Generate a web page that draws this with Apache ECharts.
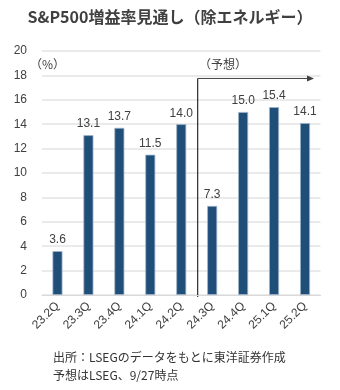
<!DOCTYPE html>
<html>
<head>
<meta charset="utf-8">
<script src="https://cdn.jsdelivr.net/npm/echarts@6/dist/echarts.min.js"></script>
<style>html,body{margin:0;padding:0;background:#fff}#c{width:340px;height:390px}</style>
</head>
<body>
<div id="c"></div>
<script>
var categories = ['23.2Q','23.3Q','23.4Q','24.1Q','24.2Q','24.3Q','24.4Q','25.1Q','25.2Q'];
var growth = [3.6, 13.1, 13.7, 11.5, 14.0, 7.3, 15.0, 15.4, 14.1];
var yTicks = [0, 2, 4, 6, 8, 10, 12, 14, 16, 18, 20];
var forecastStartIndex = 5;
var arrowLevel = 17.75;

var FONT = '"Liberation Sans", "Noto Sans CJK JP", sans-serif';
var JFONT = '"Noto Sans CJK JP", sans-serif';

var chart = echarts.init(document.getElementById('c'), null, {renderer: 'canvas'});
chart.setOption({
  animation: false,
  backgroundColor: '#fff',
  title: {
    text: 'S&P500増益率見通し（除エネルギー）',
    left: 'center', top: 4,
    textStyle: {fontFamily: JFONT, fontSize: 16, fontWeight: 'bold', color: '#404040'}
  },
  grid: {left: 42, right: 19.5, top: 51, bottom: 95, containLabel: false},
  xAxis: {
    type: 'category', data: categories,
    axisTick: {show: false},
    axisLine: {lineStyle: {color: '#d9d9d9', width: 1}},
    axisLabel: {rotate: 45, margin: 9, fontSize: 12, color: '#404040', fontFamily: FONT, interval: 0}
  },
  yAxis: {
    type: 'value', min: yTicks[0], max: yTicks[yTicks.length - 1], interval: 2,
    axisLine: {show: false}, axisTick: {show: false},
    splitLine: {lineStyle: {color: '#e3e3e3', width: 1.5}},
    axisLabel: {margin: 15, fontSize: 12, color: '#404040', fontFamily: FONT}
  },
  series: [{
    type: 'bar', data: growth, barWidth: 10,
    itemStyle: {color: '#1f4e79', borderColor: '#9fb4ca', borderWidth: 0.8},
    label: {show: true, position: 'top', distance: 5, fontSize: 12, color: '#404040', fontFamily: FONT,
      formatter: function(p){ return p.value.toFixed(1); }}
  }]
});

var p4 = chart.convertToPixel({xAxisIndex: 0, yAxisIndex: 0}, [forecastStartIndex - 1, arrowLevel]);
var p5 = chart.convertToPixel({xAxisIndex: 0, yAxisIndex: 0}, [forecastStartIndex, 0]);
var xb = (p4[0] + p5[0]) / 2 + 1;
var yTop = p4[1];
var yBot = p5[1] + 2;
var lastPix = chart.convertToPixel({xAxisIndex: 0, yAxisIndex: 0}, [categories.length - 1, 0]);
var xEnd = lastPix[0] + 9;

chart.setOption({
  graphic: [
    {type: 'line', shape: {x1: xb, y1: yTop, x2: xb, y2: yBot}, style: {stroke: '#000', lineWidth: 1}},
    {type: 'line', shape: {x1: xb, y1: yTop, x2: xEnd - 5, y2: yTop}, style: {stroke: '#404040', lineWidth: 1}},
    {type: 'polygon', shape: {points: [[xEnd, yTop], [xEnd - 7, yTop - 3], [xEnd - 7, yTop + 3]]}, style: {fill: '#404040'}},
    {type: 'text', left: 199, top: 58, style: {text: '（予想）', font: '12px ' + JFONT, fill: '#404040'}},
    {type: 'text', left: 30, top: 58, style: {text: '（%）', font: '12px ' + JFONT, fill: '#404040'}},
    {type: 'text', left: 53, top: 351, style: {text: '出所：LSEGのデータをもとに東洋証券作成', font: '12px ' + JFONT, fill: '#333'}},
    {type: 'text', left: 53, top: 369, style: {text: '予想はLSEG、9/27時点', font: '12px ' + JFONT, fill: '#333'}}
  ]
});
</script>
</body>
</html>
